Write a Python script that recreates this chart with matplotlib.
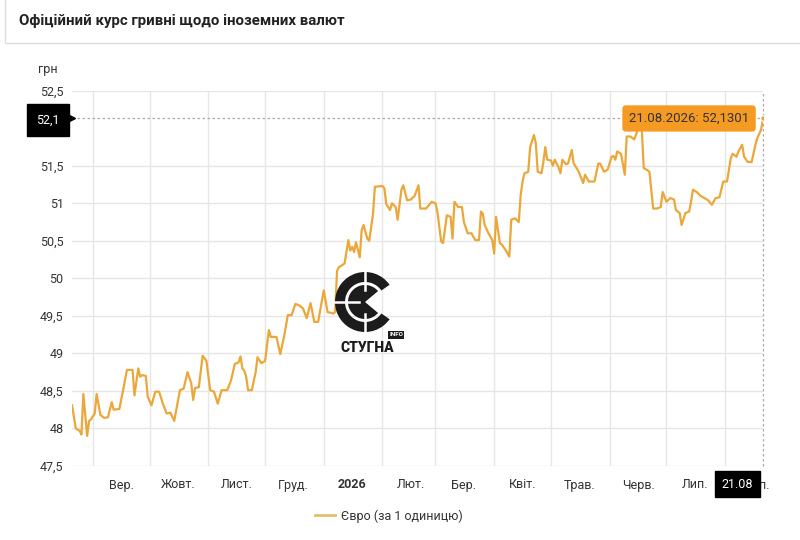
import numpy as np
import matplotlib
matplotlib.use('Agg')
import matplotlib.pyplot as plt
from matplotlib.patches import Rectangle, Wedge
from matplotlib.lines import Line2D
from matplotlib.transforms import blended_transform_factory

plt.rcParams['font.family'] = ['Roboto', 'DejaVu Sans']

# official EUR rate (day offset from start, UAH)
start = np.datetime64('2025-08-21')
days = [0, 2, 4, 5, 6, 8, 9, 10, 12, 13, 15, 17, 19, 21, 22, 25, 27, 29, 32, 33,
        35, 36, 37, 39, 40, 42, 44, 46, 48, 50, 52, 54, 57, 59, 61, 63, 64, 65, 67, 69,
        71, 73, 75, 77, 79, 82, 84, 86, 88, 89, 90, 91, 92, 93, 95, 97, 98, 100, 102, 104,
        105, 108, 110, 112, 114, 116, 118, 120, 122, 124, 126, 128, 130, 133, 135, 137, 138, 139, 140, 141,
        143, 144, 146, 147, 148, 149, 150, 152, 153, 154, 156, 157, 159, 160, 164, 165, 166, 168, 169, 171,
        172, 174, 175, 177, 179, 181, 183, 184, 187, 188, 190, 192, 193, 195, 196, 198, 200, 201, 202, 204,
        206, 207, 209, 211, 213, 215, 216, 217, 218, 220, 222, 223, 224, 226, 227, 229, 231, 232, 234, 236,
        237, 238, 239, 241, 242, 244, 245, 246, 248, 249, 250, 251, 253, 254, 255, 257, 258, 259, 261, 262,
        264, 265, 267, 268, 270, 271, 273, 276, 278, 279, 281, 283, 285, 286, 287, 288, 290, 292, 293, 295,
        297, 298, 299, 301, 302, 304, 305, 306, 307, 309, 311, 312, 314, 316, 318, 319, 321, 322, 324, 326,
        327, 328, 330, 332, 334, 336, 338, 340, 342, 344, 346, 348, 349, 351, 352, 354, 355, 357, 359, 361,
        362, 364, 365]
euro = [48.31, 48.00, 47.97, 47.92, 48.46, 47.90, 48.10, 48.12, 48.20, 48.46, 48.18, 48.14, 48.15, 48.35, 48.25, 48.26, 48.51, 48.78, 48.78, 48.44,
        48.80, 48.69, 48.71, 48.70, 48.42, 48.31, 48.49, 48.49, 48.33, 48.20, 48.21, 48.10, 48.51, 48.53, 48.75, 48.60, 48.38, 48.54, 48.55, 48.97,
        48.90, 48.51, 48.49, 48.33, 48.51, 48.51, 48.64, 48.86, 48.88, 48.96, 48.80, 48.77, 48.69, 48.51, 48.51, 48.75, 48.95, 48.87, 48.90, 49.31,
        49.22, 49.22, 48.99, 49.22, 49.51, 49.51, 49.66, 49.64, 49.60, 49.47, 49.67, 49.42, 49.42, 49.84, 49.55, 49.54, 49.53, 49.55, 50.10, 50.15,
        50.18, 50.20, 50.51, 50.37, 50.42, 50.35, 50.48, 50.28, 50.64, 50.71, 50.53, 50.50, 50.86, 51.22, 51.23, 51.20, 50.99, 50.91, 51.00, 50.95,
        50.78, 51.18, 51.24, 51.04, 51.05, 51.10, 51.24, 50.93, 50.93, 50.96, 51.02, 51.00, 50.89, 50.49, 50.47, 50.84, 50.82, 50.53, 51.02, 50.95,
        50.95, 50.75, 50.60, 50.60, 50.51, 50.51, 50.89, 50.86, 50.71, 50.60, 50.51, 50.33, 50.82, 50.47, 50.45, 50.38, 50.29, 50.78, 50.80, 50.75,
        51.11, 51.29, 51.40, 51.42, 51.75, 51.91, 51.80, 51.42, 51.40, 51.55, 51.75, 51.58, 51.57, 51.50, 51.58, 51.48, 51.40, 51.58, 51.52, 51.53,
        51.71, 51.53, 51.45, 51.40, 51.27, 51.38, 51.29, 51.29, 51.53, 51.53, 51.42, 51.45, 51.62, 51.63, 51.58, 51.69, 51.66, 51.38, 51.89, 51.89,
        51.85, 51.92, 51.98, 51.98, 51.47, 51.44, 51.42, 51.18, 50.93, 50.93, 50.95, 51.15, 51.02, 51.07, 51.05, 50.91, 50.87, 50.71, 50.87, 50.89,
        51.02, 51.18, 51.15, 51.10, 51.07, 51.04, 50.98, 51.07, 51.08, 51.29, 51.29, 51.60, 51.66, 51.62, 51.69, 51.78, 51.62, 51.55, 51.55, 51.78,
        51.87, 51.98, 52.1301]

month_labels = ['Вер.', 'Жовт.', 'Лист.', 'Груд.', '2026', 'Лют.', 'Бер.',
                'Квіт.', 'Трав.', 'Черв.', 'Лип.', 'Серп.']
y_ticks = [47.5, 48, 48.5, 49, 49.5, 50, 50.5, 51, 51.5, 52.5]

dates = start + np.array(days).astype('timedelta64[D]')
end = dates[-1]
last = euro[-1]

line_color = '#EBA73A'
text_color = '#333333'
grid_color = '#e6e6e6'

fig = plt.figure(figsize=(8, 5.4), dpi=100)
fig.patch.set_facecolor('white')

ax = fig.add_axes([72 / 800, 1 - 466 / 540, (763 - 72) / 800, (466 - 90.7) / 540])
ax.plot(dates, euro, color=line_color, lw=1.6, zorder=3, solid_joinstyle='round')
ax.plot([end], [last], 'o', ms=4, mfc=line_color, mec='white', mew=0.8, zorder=4)

ax.set_xlim(start, end)
ax.set_ylim(47.5, 52.5)

# month gridlines, labels in the middle of each month
month_starts = np.arange('2025-09', '2026-09', dtype='datetime64[M]').astype('datetime64[D]')
ax.set_xticks(month_starts)
ax.set_xticklabels([])
ax.set_xticks(month_starts + np.timedelta64(15, 'D'), minor=True)
ax.set_xticklabels(month_labels, minor=True)
for lbl in ax.get_xticklabels(minor=True):
    if lbl.get_text() == '2026':
        lbl.set_fontweight('bold')
ax.tick_params(axis='x', which='both', length=0, pad=9, labelsize=9, labelcolor=text_color)

ax.set_yticks(y_ticks)
ax.set_yticklabels([('%g' % v).replace('.', ',') for v in y_ticks])
ax.tick_params(axis='y', length=0, pad=6, labelsize=9, labelcolor=text_color)

ax.grid(True, which='major', color=grid_color, lw=1)
ax.set_axisbelow(True)
for s in ax.spines.values():
    s.set_visible(False)

# crosshair at the last value
ax.axhline(last, color='#aaaaaa', lw=0.9, ls=(0, (2, 2)), zorder=2)
ax.axvline(end, color='#aaaaaa', lw=0.9, ls=(0, (2, 2)), zorder=2, clip_on=False)

ytrans = blended_transform_factory(ax.transAxes, ax.transData)
ax.annotate('52,1', xy=(0, last), xycoords=ytrans, xytext=(-9, -1), textcoords='offset points',
            ha='right', va='center', color='white', fontsize=9,
            bbox=dict(boxstyle='square,pad=0.75', fc='black', ec='black'))
ax.plot([0.0], [last], marker='>', ms=4, color='black', transform=ytrans, clip_on=False)

xtrans = blended_transform_factory(ax.transData, ax.transAxes)
ax.annotate('21.08', xy=(end, 0), xycoords=xtrans, xytext=(-7, -13), textcoords='offset points',
            ha='right', va='center', color='white', fontsize=9, zorder=6,
            bbox=dict(boxstyle='square,pad=0.55', fc='black', ec='black'))

ax.annotate('21.08.2026: 52,1301', xy=(end, last), xytext=(-10, 0), textcoords='offset points',
            ha='right', va='center', color=text_color, fontsize=9.5, zorder=6,
            bbox=dict(boxstyle='round,pad=0.45,rounding_size=0.2', fc='#F59A23', ec='#F59A23'))

fig.text(48 / 800, 1 - 70 / 540, 'грн', ha='center', va='center', fontsize=9, color=text_color)

handle = Line2D([], [], color='#E3BE6E', lw=2)
fig.legend([handle], ['Євро (за 1 одиницю)'], loc='center', bbox_to_anchor=(389 / 800, 1 - 516 / 540),
           frameon=False, fontsize=9, handlelength=1.6, handletextpad=0.5, labelcolor=text_color)

# header and watermark, in pixel coordinates
over = fig.add_axes([0, 0, 1, 1], zorder=5)
over.set_xlim(0, 800)
over.set_ylim(540, 0)
over.axis('off')
over.add_patch(Rectangle((5, -2), 800, 45, fc='white', ec='#dddddd', lw=1))
over.text(19, 21, 'Офіційний курс гривні щодо іноземних валют', ha='left', va='center',
          fontsize=10.8, fontweight='bold', color='#222222')

cx, cy = 365, 302
over.add_patch(Wedge((cx, cy), 30, 35, 325, width=10, fc='#1c1c1c', ec='none'))
over.add_patch(Wedge((cx, cy), 17, 40, 320, fc='#1c1c1c', ec='none'))
over.plot([cx - 32, cx - 6], [cy, cy], color='white', lw=1.8)
over.plot([cx, cx], [cy - 32, cy - 12], color='white', lw=1.8)
over.plot([cx, cx], [cy + 12, cy + 32], color='white', lw=1.8)
over.text(367, 348, 'СТУГНА', ha='center', va='center', fontsize=10, fontweight='heavy', color='#1c1c1c')
over.text(396, 335, 'INFO', ha='center', va='center', fontsize=4.5, fontweight='bold', color='white',
          bbox=dict(boxstyle='square,pad=0.2', fc='#1c1c1c', ec='none'))

fig.savefig('out.png', dpi=100)
